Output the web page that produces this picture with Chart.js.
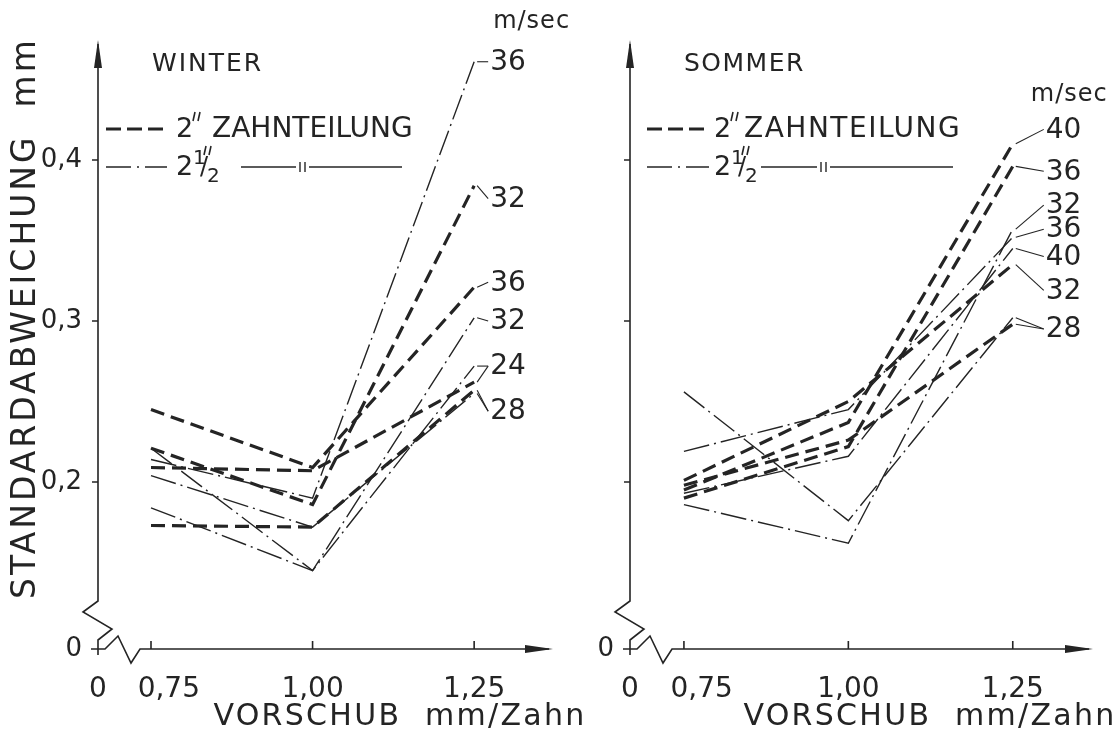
<!DOCTYPE html>
<html>
<head>
<meta charset="utf-8">
<script src="https://cdn.jsdelivr.net/npm/chart.js@4.4.1/dist/chart.umd.min.js"></script>
<style>
  html, body { margin: 0; padding: 0; background: #fff; }
  #wrap { position: relative; width: 1117px; height: 743px; }
  canvas { position: absolute; top: 0; }
</style>
</head>
<body>
<div id="wrap">
  <canvas id="winter" width="600" height="743" style="left:0"></canvas>
  <canvas id="sommer" width="559" height="743" style="left:558px"></canvas>
</div>
<script>
// Vorschub (mm/Zahn) auf der x-Achse
const vorschub = [0.75, 1.00, 1.25];
const xTicks = [0.75, 1.00, 1.25];
const yTicks = [0.2, 0.3, 0.4];
const xMin = 0.668, xMax = 1.372;
const yMin = 0.0963, yMax = 0.4745;

// WINTER - 2" Zahnteilung (gestrichelt), je Schnittgeschwindigkeit m/sec
const winter2_32 = [0.221, 0.186, 0.384];
const winter2_36 = [0.245, 0.209, 0.321];
const winter2_24 = [0.209, 0.207, 0.262];
const winter2_28 = [0.173, 0.172, 0.257];
// WINTER - 2 1/2" Zahnteilung (strich-punkt)
const winter25_36 = [0.214, 0.190, 0.461];
const winter25_32 = [0.221, 0.145, 0.302];
const winter25_24 = [0.184, 0.145, 0.272];
const winter25_28 = [0.204, 0.172, 0.255];

// SOMMER - 2"
const sommer2_40 = [0.195, 0.237, 0.410];
const sommer2_36 = [0.190, 0.222, 0.396];
const sommer2_32 = [0.201, 0.250, 0.335];
const sommer2_28 = [0.198, 0.226, 0.298];
// SOMMER - 2 1/2"
const sommer25_32 = [0.186, 0.162, 0.357];
const sommer25_36 = [0.219, 0.245, 0.352];
const sommer25_40 = [0.193, 0.216, 0.345];
const sommer25_28 = [0.256, 0.176, 0.302];

// Beschriftung am Kurvenende: Text, Hoehe der Zahl, zugehoerige Kurven
const winterMarken = [
  ['36', 0.461, [winter25_36]],
  ['32', 0.376, [winter2_32]],
  ['36', 0.324, [winter2_36]],
  ['32', 0.300, [winter25_32]],
  ['24', 0.272, [winter25_24, winter2_24]],
  ['28', 0.244, [winter2_28, winter25_28]]
];
const sommerMarken = [
  ['40', 0.419, [sommer2_40]],
  ['36', 0.393, [sommer2_36]],
  ['32', 0.372, [sommer25_32]],
  ['36', 0.357, [sommer25_36]],
  ['40', 0.340, [sommer25_40]],
  ['32', 0.319, [sommer2_32]],
  ['28', 0.295, [sommer2_28, sommer25_28]]
];

const farbe = '#242424';
Chart.defaults.font.family = '"DejaVu Sans", sans-serif';
Chart.defaults.color = farbe;

// Lage der Beschriftungen je Diagramm (Pixel relativ zur y-Achse)
const panels = {
  winter: {
    titel: 'WINTER', titelAbstand: 2, yTitel: true, marken: winterMarken,
    markeDx: 16, mSecDx: 19, mSecY: 22, xTitelMitte: 400, achse: 98, rechts: 47,
    leg: { s: 8, e: 69, z: 78, t: 114, tAbstand: 0, l1: [143, 198], l2: [211, 304], ii: 202 }
  },
  sommer: {
    titel: 'SOMMER', titelAbstand: 1.5, yTitel: false, marken: sommerMarken,
    markeDx: 33, mSecDx: 18, mSecY: 95, xTitelMitte: 372, achse: 72, rechts: 24,
    leg: { s: 17, e: 79, z: 84, t: 114, tAbstand: 1.5, l1: [131, 187], l2: [200, 323], ii: 191 }
  }
};

function text(ctx, s, x, y, size, spacing, align) {
  ctx.save();
  ctx.font = size + 'px "DejaVu Sans"';
  ctx.letterSpacing = spacing + 'px';
  ctx.fillStyle = farbe;
  ctx.textAlign = align || 'left';
  ctx.textBaseline = 'middle';
  ctx.fillText(s, x, y);
  ctx.restore();
}

function linie(ctx, x1, y1, x2, y2, breite, dash) {
  ctx.save();
  ctx.strokeStyle = farbe;
  ctx.lineWidth = breite;
  ctx.setLineDash(dash || []);
  ctx.beginPath();
  ctx.moveTo(x1, y1);
  ctx.lineTo(x2, y2);
  ctx.stroke();
  ctx.restore();
}

// Zollzeichen als zwei kurze Schraegstriche
function zoll(ctx, x, y) {
  linie(ctx, x + 2, y - 5, x, y + 4, 1.6);
  linie(ctx, x + 7, y - 5, x + 5, y + 4, 1.6);
}

const DASH2 = [14, 7];
const DASH25 = [26, 5, 2, 5];

const zeichnung = {
  id: 'zeichnung',
  beforeDatasetsDraw(chart) {
    const { ctx, chartArea: a, scales: { x, y } } = chart;
    const x0 = a.left, y0 = a.bottom;
    ctx.save();
    ctx.strokeStyle = farbe;
    ctx.fillStyle = farbe;
    ctx.lineWidth = 1.6;
    ctx.beginPath();
    // y-Achse mit Bruchstelle
    ctx.moveTo(x0, a.top + 4);
    ctx.lineTo(x0, y0 - 48);
    ctx.lineTo(x0 - 15, y0 - 37);
    ctx.lineTo(x0 + 14, y0 - 20);
    ctx.lineTo(x0, y0 - 9);
    ctx.lineTo(x0, y0 + 6);
    // x-Achse mit Bruchstelle
    ctx.moveTo(x0 - 7, y0);
    ctx.lineTo(x0 + 7, y0);
    ctx.lineTo(x0 + 20, y0 - 13);
    ctx.lineTo(x0 + 33, y0 + 14);
    ctx.lineTo(x0 + 42, y0);
    ctx.lineTo(a.right - 4, y0);
    yTicks.forEach(v => { const p = y.getPixelForValue(v); ctx.moveTo(x0 - 6, p); ctx.lineTo(x0, p); });
    xTicks.forEach(v => { const p = x.getPixelForValue(v); ctx.moveTo(p, y0 - 8); ctx.lineTo(p, y0); });
    ctx.stroke();
    // Pfeile
    ctx.beginPath();
    ctx.moveTo(x0, a.top); ctx.lineTo(x0 - 4, a.top + 28); ctx.lineTo(x0 + 4, a.top + 28);
    ctx.closePath(); ctx.fill();
    ctx.beginPath();
    ctx.moveTo(a.right, y0); ctx.lineTo(a.right - 28, y0 - 4); ctx.lineTo(a.right - 28, y0 + 4);
    ctx.closePath(); ctx.fill();
    ctx.restore();
  },
  afterDraw(chart) {
    const p = panels[chart.canvas.id];
    const L = p.leg;
    const { ctx, chartArea: a, scales: { x, y } } = chart;
    const x0 = a.left;

    text(ctx, p.titel, x0 + 54, a.top + 24, 25, p.titelAbstand);

    // Legende
    const y1 = a.top + 89, y2 = a.top + 127;
    linie(ctx, x0 + L.s, y1, x0 + L.e, y1, 3.2, [15, 6]);
    text(ctx, '2', x0 + L.z, y1 + 1, 27, 0);
    zoll(ctx, x0 + L.z + 17, y1 - 12);
    text(ctx, 'ZAHNTEILUNG', x0 + L.t, y1 + 1, 28, L.tAbstand);
    linie(ctx, x0 + L.s, y2, x0 + L.e, y2, 1.4, [25, 6, 2, 6]);
    text(ctx, '2', x0 + L.z, y2 + 1, 27, 0);
    text(ctx, '1', x0 + L.z + 17, y2 - 8, 20, 0);
    text(ctx, '/', x0 + L.z + 24, y2 + 1, 24, 0);
    text(ctx, '2', x0 + L.z + 31, y2 + 10, 20, 0);
    zoll(ctx, x0 + L.z + 28, y2 - 16);
    linie(ctx, x0 + L.l1[0], y2, x0 + L.l1[1], y2, 1.4);
    linie(ctx, x0 + L.ii, y2 - 5, x0 + L.ii, y2 + 5, 1.4);
    linie(ctx, x0 + L.ii + 5, y2 - 5, x0 + L.ii + 5, y2 + 5, 1.4);
    linie(ctx, x0 + L.l2[0], y2, x0 + L.l2[1], y2, 1.4);

    // Kurvenbeschriftung
    const xe = x.getPixelForValue(1.25);
    const lx = xe + p.markeDx;
    text(ctx, 'm/sec', xe + p.mSecDx, p.mSecY, 24, 1);
    p.marken.forEach(([t, h, kurven]) => {
      const ly = y.getPixelForValue(h);
      kurven.forEach(k => linie(ctx, lx - 2, ly, xe + 3, y.getPixelForValue(k[2]), 1.1));
      text(ctx, t, lx, ly + 1, 28, 0);
    });

    // Achsentitel
    text(ctx, 'VORSCHUB  mm/Zahn', p.xTitelMitte, 717, 30, 2.3, 'center');
    if (p.yTitel) {
      ctx.save();
      ctx.translate(26, 318);
      ctx.rotate(-Math.PI / 2);
      text(ctx, 'STANDARDABWEICHUNG  mm', 0, 0, 33, 3, 'center');
      ctx.restore();
    }
  }
};

function serie(name, werte, zahnteilung) {
  const zwei = zahnteilung === 2;
  return {
    label: name,
    data: werte.map((v, i) => ({ x: vorschub[i], y: v })),
    borderColor: farbe,
    borderWidth: zwei ? 3.2 : 1.4,
    borderDash: zwei ? DASH2 : DASH25,
    pointRadius: 0,
    fill: false,
    tension: 0
  };
}

function xLabel(v) {
  if (v < 0.7) return '0';
  const s = v.toFixed(2).replace('.', ',');
  return v === 0.75 ? '    ' + s : s;
}

function panel(id, datasets) {
  const p = panels[id];
  return new Chart(document.getElementById(id), {
    type: 'line',
    data: { datasets },
    plugins: [zeichnung],
    options: {
      responsive: false,
      animation: false,
      layout: { padding: { top: 40, right: p.rechts, left: 0, bottom: 0 } },
      plugins: { legend: { display: false }, tooltip: { enabled: false } },
      scales: {
        x: {
          type: 'linear', min: xMin, max: xMax, offset: false,
          grid: { display: false }, border: { display: false },
          afterBuildTicks: s => { s.ticks = [xMin, ...xTicks].map(v => ({ value: v })); },
          afterFit: s => { s.height = 94; },
          ticks: {
            padding: 16, maxRotation: 0, autoSkip: false,
            font: { size: 28 },
            callback: xLabel
          }
        },
        y: {
          type: 'linear', min: yMin, max: yMax,
          grid: { display: false }, border: { display: false },
          afterBuildTicks: s => { s.ticks = [yMin, ...yTicks].map(v => ({ value: v })); },
          afterFit: s => { s.width = p.achse; },
          ticks: {
            padding: 8, autoSkip: false,
            font: { size: 26 },
            callback: v => v < 0.15 ? '0' : (p.yTitel ? v.toFixed(1).replace('.', ',') : '')
          }
        }
      }
    }
  });
}

panel('winter', [
  serie('2" 32', winter2_32, 2),
  serie('2" 36', winter2_36, 2),
  serie('2" 24', winter2_24, 2),
  serie('2" 28', winter2_28, 2),
  serie('2 1/2" 36', winter25_36, 2.5),
  serie('2 1/2" 32', winter25_32, 2.5),
  serie('2 1/2" 24', winter25_24, 2.5),
  serie('2 1/2" 28', winter25_28, 2.5)
]);

panel('sommer', [
  serie('2" 40', sommer2_40, 2),
  serie('2" 36', sommer2_36, 2),
  serie('2" 32', sommer2_32, 2),
  serie('2" 28', sommer2_28, 2),
  serie('2 1/2" 32', sommer25_32, 2.5),
  serie('2 1/2" 36', sommer25_36, 2.5),
  serie('2 1/2" 40', sommer25_40, 2.5),
  serie('2 1/2" 28', sommer25_28, 2.5)
]);
</script>
</body>
</html>
